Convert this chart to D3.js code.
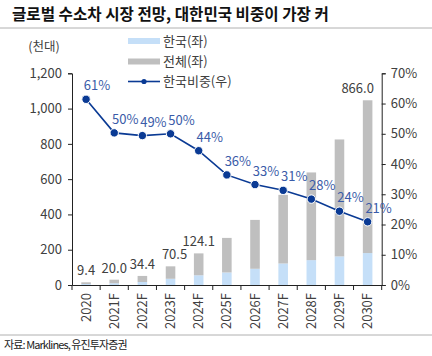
<!DOCTYPE html>
<html><head><meta charset="utf-8">
<script src="https://cdn.jsdelivr.net/npm/d3@7"></script>
<style>
html,body{margin:0;padding:0;background:#fff;}
svg{display:block;font-family:"Noto Sans CJK KR","Noto Sans",sans-serif;}
</style></head>
<body><svg id="c" width="432" height="356"></svg>
<script>
const categories = ["2020","2021F","2022F","2023F","2024F","2025F","2026F","2027F","2028F","2029F","2030F"];
const totalValues = [9.4, 20.0, 34.4, 70.5, 124.1, 196, 277, 389, 497, 663, 866.0];
const koreaValues = [5.8, 10.1, 17.0, 35.3, 55.1, 71, 92, 122, 141, 162, 181];
const koreaShare = [61.4, 50.3, 49.4, 50.0, 44.4, 36.4, 33.2, 31.3, 28.4, 24.4, 20.9];
const totalLabelShown = [true, true, true, true, true, false, false, false, false, false, true];
const leftTicks = [0, 200, 400, 600, 800, 1000, 1200];
const rightTicks = [0, 10, 20, 30, 40, 50, 60, 70];
const titleText = "글로벌 수소차 시장 전망, 대한민국 비중이 가장 커";
const unitText = "(천대)";
const legendLabels = ["한국(좌)", "전체(좌)", "한국비중(우)"];
const sourceText = "자료: Marklines, 유진투자증권";

const svg = d3.select("#c");
const L = 72, R = 381.7, T = 73.3, B = 285;
const textColor = "#404040";
const blue = "#C5DFF8", gray = "#BFBFBF", navy = "#0A3A94", pctColor = "#3A5BA8";

const x = d3.scaleBand().domain(categories).range([L, R]).padding(0);
const yL = d3.scaleLinear().domain([0, 1200]).range([B, T]);
const yR = d3.scaleLinear().domain([0, 70]).range([B, T]);
const bw = x.bandwidth() * 0.34;

// title
svg.append("text").attr("x", 12).attr("y", 20).attr("font-size", 15.6).attr("font-weight", "bold")
  .attr("fill", "#111").text(titleText);
svg.append("line").attr("x1", 0).attr("x2", 432).attr("y1", 28).attr("y2", 28).attr("stroke", "#b0b0b0").attr("stroke-width", 1);

// unit
svg.append("text").attr("x", 44).attr("y", 51).attr("text-anchor", "middle").attr("font-size", 12.5)
  .attr("fill", textColor).text(unitText);

// bars (stacked: korea bottom, total on top)
const data = categories.map((c, i) => ({c, t: totalValues[i], k: koreaValues[i], s: koreaShare[i], show: totalLabelShown[i]}));
svg.append("g").selectAll("rect.k").data(data).join("rect")
  .attr("x", d => x(d.c) + x.bandwidth()/2 - bw/2).attr("width", bw)
  .attr("y", d => yL(d.k)).attr("height", d => B - yL(d.k)).attr("fill", blue);
svg.append("g").selectAll("rect.t").data(data).join("rect")
  .attr("x", d => x(d.c) + x.bandwidth()/2 - bw/2).attr("width", bw)
  .attr("y", d => yL(d.k + d.t)).attr("height", d => yL(d.k) - yL(d.k + d.t)).attr("fill", gray);

// total labels
const labelDx = {"2023F": 4, "2030F": -10};
svg.append("g").selectAll("text").data(data.filter(d => d.show)).join("text")
  .attr("x", d => x(d.c) + x.bandwidth()/2 + (labelDx[d.c] || 0))
  .attr("y", d => yL(d.k + d.t) - 7)
  .attr("text-anchor", "middle").attr("font-size", 13).attr("fill", textColor)
  .text(d => d3.format(".1f")(d.t));

// axes
const axL = svg.append("g").attr("transform", `translate(${L},0)`)
  .call(d3.axisLeft(yL).tickValues(leftTicks).tickFormat(d3.format(",")).tickSizeOuter(0).tickSize(4));
const axR = svg.append("g").attr("transform", `translate(${R},0)`)
  .call(d3.axisRight(yR).tickValues(rightTicks).tickFormat(d => d + "%").tickSizeOuter(0).tickSize(4));
const axB = svg.append("g").attr("transform", `translate(0,${B})`)
  .call(d3.axisBottom(x).tickSize(0).tickSizeOuter(0));
[axL, axR, axB].forEach(a => {
  a.select(".domain").attr("stroke", "#222").attr("stroke-width", 1);
  a.selectAll(".tick line").attr("stroke", "#222");
  a.selectAll(".tick text").attr("fill", textColor).attr("font-size", 13).attr("font-family", "Noto Sans CJK KR, sans-serif");
});
axL.selectAll(".tick text").attr("x", -10);
axR.selectAll(".tick text").attr("x", 9);
axB.selectAll(".tick text").attr("transform", "rotate(-90)").attr("text-anchor", "end")
  .attr("x", -8).attr("y", 0).attr("dy", "0.35em");
// x boundary ticks
const bounds = categories.map(c => x(c)).concat([R]);
svg.append("g").selectAll("line").data(bounds).join("line")
  .attr("x1", d => d).attr("x2", d => d).attr("y1", B).attr("y2", B + 5).attr("stroke", "#222");

// share line
const line = d3.line().x(d => x(d.c) + x.bandwidth()/2).y(d => yR(d.s));
svg.append("path").datum(data).attr("d", line).attr("fill", "none").attr("stroke", navy).attr("stroke-width", 1.6);
svg.append("g").selectAll("circle").data(data).join("circle")
  .attr("cx", d => x(d.c) + x.bandwidth()/2).attr("cy", d => yR(d.s)).attr("r", 4.2)
  .attr("fill", navy).attr("stroke", "#fff").attr("stroke-width", 1);
svg.append("g").selectAll("text").data(data).join("text")
  .attr("x", d => x(d.c) + x.bandwidth()/2 + 11).attr("y", d => yR(d.s) - 9)
  .attr("text-anchor", "middle").attr("font-size", 13).attr("fill", pctColor)
  .text(d => d3.format(".0f")(d.s) + "%");

// legend
const lg = svg.append("g");
const lx = 128, lw = 32, ly = [41, 61.5, 81.5];
lg.append("rect").attr("x", lx).attr("y", ly[0] - 3).attr("width", lw).attr("height", 6).attr("fill", blue);
lg.append("rect").attr("x", lx).attr("y", ly[1] - 3).attr("width", lw).attr("height", 6).attr("fill", gray);
lg.append("line").attr("x1", lx).attr("x2", lx + lw).attr("y1", ly[2]).attr("y2", ly[2]).attr("stroke", navy).attr("stroke-width", 1.6);
lg.append("circle").attr("cx", lx + lw/2).attr("cy", ly[2]).attr("r", 2.6).attr("fill", navy);
legendLabels.forEach((t, i) => {
  lg.append("text").attr("x", lx + lw + 3).attr("y", ly[i]).attr("dy", "0.36em").attr("font-size", 13)
    .attr("fill", textColor).text(t);
});

// footer
svg.append("line").attr("x1", 0).attr("x2", 432).attr("y1", 335).attr("y2", 335).attr("stroke", "#b0b0b0");
svg.append("text").attr("x", 4).attr("y", 349).attr("font-size", 11).attr("letter-spacing", -0.9)
  .attr("fill", "#222").text(sourceText);
</script></body></html>
